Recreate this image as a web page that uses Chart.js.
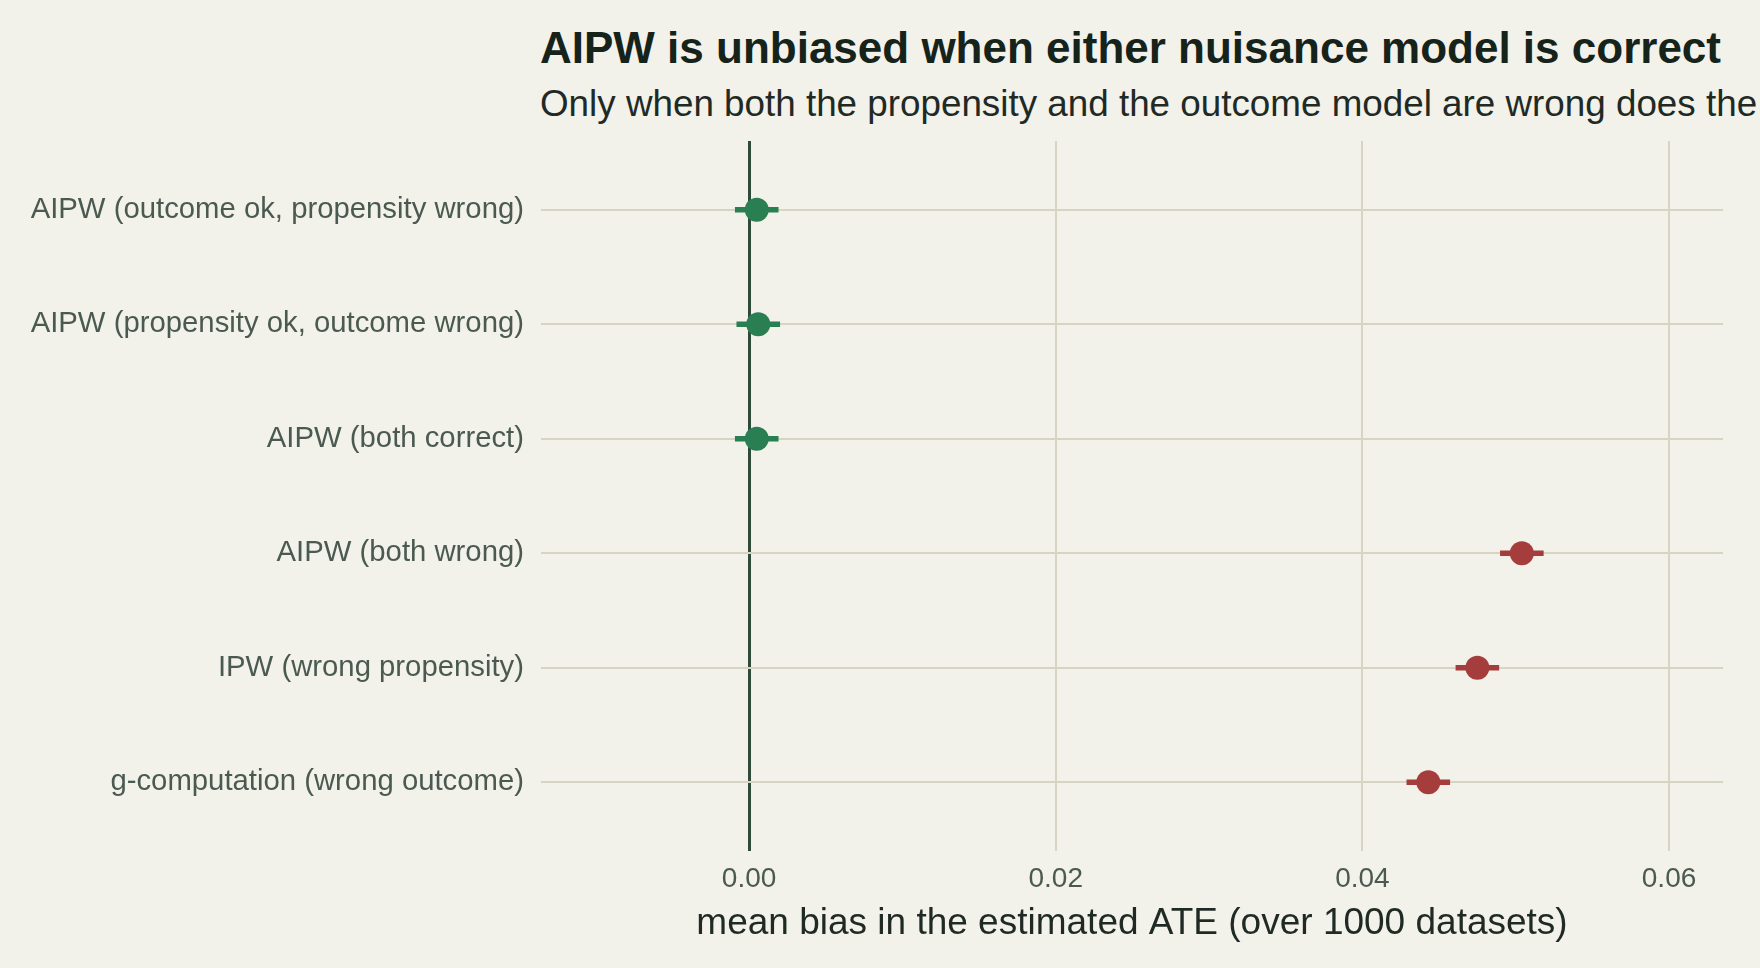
<!DOCTYPE html>
<html>
<head>
<meta charset="utf-8">
<title>AIPW bias</title>
<script src="https://cdn.jsdelivr.net/npm/chart.js@4"></script>
<style>
  html, body { margin: 0; padding: 0; background: #F2F1EA; overflow: hidden; }
  #wrap { position: relative; width: 1760px; height: 968px; overflow: hidden; }
  #chart { position: absolute; left: 0; top: 0; }
  .ttl { position: absolute; left: 540px; white-space: nowrap; line-height: 1;
         font-family: "Liberation Sans", Arial, sans-serif; }
  #title { top: 26px; font-size: 44px; font-weight: bold; color: #16231B; }
  #subtitle { top: 86px; font-size: 36.8px; color: #1F2A24; }
</style>
</head>
<body>
<div id="wrap">
  <div class="ttl" id="title">AIPW is unbiased when either nuisance model is correct</div>
  <div class="ttl" id="subtitle">Only when both the propensity and the outcome model are wrong does the bias appear</div>
  <canvas id="chart" width="1760" height="968"></canvas>
</div>
<script>
// rows, top to bottom
const estimators = [
  "AIPW (outcome ok, propensity wrong)",
  "AIPW (propensity ok, outcome wrong)",
  "AIPW (both correct)",
  "AIPW (both wrong)",
  "IPW (wrong propensity)",
  "g-computation (wrong outcome)"
];
const meanBias = [0.0005, 0.0006, 0.0005, 0.0504, 0.0475, 0.0443];
const ciLow    = [-0.0009, -0.0008, -0.0009, 0.0490, 0.0461, 0.0429];
const ciHigh   = [0.0019, 0.0020, 0.0019, 0.0518, 0.0489, 0.0457];
const biased   = [false, false, false, true, true, true];
const xTicks   = [0, 0.02, 0.04, 0.06];

const GREEN = "#2A7F52";
const RED = "#A63D3D";
const GRID = "#D6D5C3";
const ZERO = "#2F4A38";
const FONT = "'Liberation Sans', Arial, sans-serif";

const colors = biased.map((b) => (b ? RED : GREEN));

const ctx = document.getElementById("chart");

new Chart(ctx, {
  type: "scatter",
  data: {
    datasets: [
      {
        label: "mean bias",
        data: meanBias.map((v, i) => ({ x: v, y: i })),
        pointRadius: 12,
        pointHoverRadius: 12,
        pointBackgroundColor: colors,
        pointBorderWidth: 0,
        order: 0,
      },
      {
        // interval drawn as a thin floating bar
        type: "bar",
        label: "interval",
        indexAxis: "y",
        data: ciLow.map((lo, i) => ({ x: [lo, ciHigh[i]], y: i })),
        backgroundColor: colors,
        borderWidth: 0,
        barThickness: 5,
        order: 1,
      },
    ],
  },
  options: {
    responsive: false,
    animation: false,
    devicePixelRatio: 1,
    layout: { padding: { top: 141, left: 0, right: 37, bottom: 0 } },
    plugins: {
      legend: { display: false },
      tooltip: { enabled: false },
    },
    scales: {
      x: {
        type: "linear",
        min: -0.01357,
        max: 0.06352,
        offset: false,
        afterFit: (scale) => { scale.height = 117; },
        afterBuildTicks: (scale) => { scale.ticks = xTicks.map((v) => ({ value: v })); },
        border: { display: false },
        grid: {
          offset: false,
          drawTicks: false,
          color: (c) => (c.tick && c.tick.value === 0 ? ZERO : GRID),
          lineWidth: (c) => (c.tick && c.tick.value === 0 ? 3 : 2),
        },
        ticks: {
          padding: 11,
          color: "#4B5A51",
          font: { family: FONT, size: 28 },
          callback: (v) => Number(v).toFixed(2),
        },
        title: {
          display: true,
          text: "mean bias in the estimated ATE (over 1000 datasets)",
          color: "#1F2A24",
          font: { family: FONT, size: 37 },
          padding: { top: 0, bottom: 22 },
        },
      },
      y: {
        type: "linear",
        reverse: true,
        min: -0.6,
        max: 5.6,
        offset: false,
        z: -1,
        afterFit: (scale) => { scale.width = 541; },
        afterBuildTicks: (scale) => { scale.ticks = estimators.map((_, i) => ({ value: i })); },
        border: { display: false },
        grid: { offset: false, drawTicks: false, color: GRID, lineWidth: 2 },
        ticks: {
          padding: 17,
          color: "#4B5A51",
          font: { family: FONT, size: 29.3 },
          callback: (v) => estimators[v],
        },
      },
    },
  },
});
</script>
</body>
</html>
